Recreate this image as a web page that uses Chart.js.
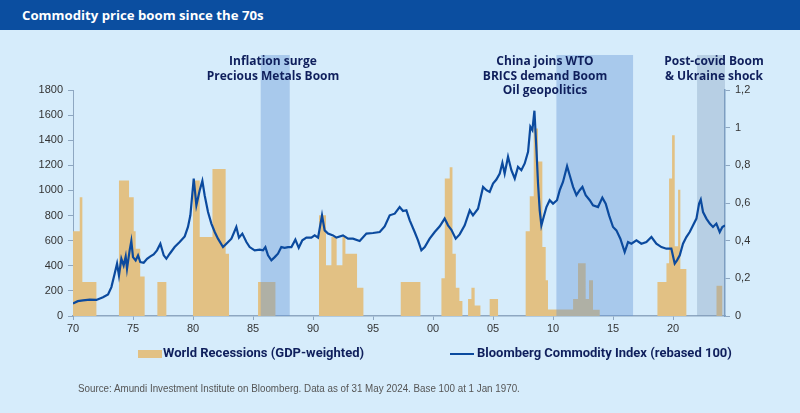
<!DOCTYPE html>
<html>
<head>
<meta charset="utf-8">
<script src="https://cdn.jsdelivr.net/npm/chart.js@4/dist/chart.umd.min.js"></script>
<style>
    body { margin: 0; background: #d6ecfb; }
    #page { position: relative; width: 800px; height: 413px; overflow: hidden; background: #d6ecfb; }
    #titlebar { position: absolute; left: 0; top: 0; width: 800px; height: 30px; background: #0b4ea0; }
    #titlebar span { position: absolute; left: 22px; top: 6px; color: #fff; font: bold 13.2px "Open Sans", sans-serif; }
    #chart { position: absolute; left: 0; top: 0; }
    .note { position: absolute; width: 220px; text-align: center; color: #0f1f5c; font: bold 12px "Open Sans", sans-serif; line-height: 14.5px; }
    .legend { position: absolute; top: 345px; color: #0f1f5c; font: bold 13px Roboto, sans-serif; white-space: nowrap; }
    .legend i { position: absolute; display: block; }
    #source { position: absolute; left: 78px; top: 383px; color: #555; font: 10px "Liberation Sans", Arial, sans-serif; transform: scaleX(0.98); transform-origin: left top; white-space: nowrap; }
</style>
</head>
<body>
<div id="page">
    <canvas id="chart" width="800" height="413"></canvas>
    <div id="titlebar"><span>Commodity price boom since the 70s</span></div>
    <div class="note" style="left:163px; top:54px;">Inflation surge<br>Precious Metals Boom</div>
    <div class="note" style="left:435px; top:54px;">China joins WTO<br>BRICS demand Boom<br>Oil geopolitics</div>
    <div class="note" style="left:604px; top:54px;">Post-covid Boom<br>&amp; Ukraine shock</div>
    <div class="legend" style="left:163px;"><i style="left:-25px; top:5px; width:24px; height:8px; background:#e2c184;"></i>World Recessions (GDP-weighted)</div>
    <div class="legend" style="left:477px;"><i style="left:-27px; top:8px; width:24px; height:2px; background:#0b4a9e;"></i>Bloomberg Commodity Index (rebased 100)</div>
    <div id="source">Source: Amundi Investment Institute on Bloomberg. Data as of 31 May 2024. Base 100 at 1 Jan 1970.</div>
</div>
<script>

// Bloomberg Commodity Index (rebased 100)
let indexYears = [
    1970.0, 1970.4, 1970.83, 1971.4, 1971.95, 1972.5, 1972.92, 1973.2, 1973.47, 1973.67,
    1973.83, 1974.03, 1974.22, 1974.39, 1974.5, 1974.72, 1974.86, 1975.0, 1975.22, 1975.42,
    1975.61, 1975.89, 1976.17, 1976.45, 1976.72, 1977.0, 1977.28, 1977.56, 1977.78, 1978.06,
    1978.47, 1978.89, 1979.31, 1979.58, 1979.78, 1980.06, 1980.28, 1980.56, 1980.78, 1980.97,
    1981.25, 1981.53, 1981.81, 1982.08, 1982.5, 1982.78, 1983.2, 1983.61, 1983.83, 1984.11,
    1984.45, 1984.72, 1985.14, 1985.56, 1985.83, 1986.03, 1986.25, 1986.53, 1986.81, 1987.08,
    1987.36, 1987.64, 1987.92, 1988.2, 1988.53, 1988.81, 1989.11, 1989.45, 1989.86, 1990.14,
    1990.42, 1990.75, 1990.97, 1991.25, 1991.67, 1991.95, 1992.5, 1992.92, 1993.33, 1993.89,
    1994.45, 1995.0, 1995.56, 1995.97, 1996.39, 1996.81, 1997.22, 1997.5, 1997.78, 1998.06,
    1998.47, 1998.75, 1999.03, 1999.31, 1999.72, 2000.14, 2000.56, 2000.97, 2001.25, 2001.53,
    2001.89, 2002.22, 2002.64, 2003.06, 2003.33, 2003.75, 2004.17, 2004.45, 2004.72, 2005.0,
    2005.28, 2005.56, 2005.78, 2005.97, 2006.25, 2006.53, 2006.81, 2007.08, 2007.36, 2007.64,
    2007.92, 2008.11, 2008.28, 2008.45, 2008.62, 2008.75, 2008.89, 2009.03, 2009.22, 2009.45,
    2009.72, 2010.0, 2010.33, 2010.56, 2010.83, 2011.17, 2011.39, 2011.67, 2011.95, 2012.22,
    2012.45, 2012.72, 2013.06, 2013.33, 2013.75, 2014.11, 2014.39, 2014.67, 2015.0, 2015.28,
    2015.61, 2015.97, 2016.25, 2016.53, 2016.95, 2017.36, 2017.78, 2018.2, 2018.61, 2019.03,
    2019.45, 2019.86, 2020.14, 2020.33, 2020.56, 2020.83, 2021.11, 2021.39, 2021.67, 2021.95,
    2022.17, 2022.31, 2022.5, 2022.78, 2023.06, 2023.33, 2023.61, 2023.89, 2024.11, 2024.33
];
let indexValues = [
    100, 118, 124, 130, 128, 150, 172, 230, 337, 417,
    323, 456, 403, 475, 377, 523, 597, 469, 443, 483,
    430, 424, 456, 475, 491, 523, 576, 483, 456, 496,
    549, 589, 634, 709, 802, 1095, 882, 1002, 1076, 962,
    828, 736, 669, 616, 549, 576, 616, 709, 624, 656,
    589, 549, 523, 528, 523, 549, 483, 443, 469, 496,
    549, 543, 549, 549, 608, 543, 603, 624, 624, 642,
    624, 802, 682, 656, 642, 624, 642, 616, 616, 597,
    656, 661, 669, 714, 802, 815, 868, 836, 842, 762,
    669, 603, 523, 549, 616, 669, 714, 776, 722, 687,
    616, 650, 722, 842, 802, 855, 1028, 1002, 988, 1055,
    1087, 1135, 1220, 1135, 1268, 1161, 1095, 1188, 1161, 1215,
    1307, 1507, 1480, 1635, 1321, 1055, 842, 722, 789, 868,
    922, 895, 922, 1002, 1068, 1193, 1121, 1028, 962, 1002,
    1028, 962, 922, 882, 868, 943, 895, 802, 709, 682,
    616, 509, 589, 576, 603, 576, 589, 629, 576, 549,
    536, 536, 417, 443, 483, 576, 629, 669, 722, 776,
    895, 927, 828, 776, 736, 709, 736, 669, 709, 722
];

// World Recessions (GDP-weighted), rechte Achse: Beginn, Ende, Wert
let recessionStart = [
    1970.0, 1970.56, 1970.78, 1973.83, 1974.67, 1975.06, 1975.22, 1975.6, 1977.03, 1980.0,
    1980.56, 1981.62, 1982.72, 1985.42, 1990.5, 1991.08, 1991.53, 1991.97, 1992.45, 1992.7,
    1993.67, 1997.31, 2000.7, 2000.98, 2001.39, 2001.62, 2001.9, 2002.2, 2002.92, 2003.2,
    2003.47, 2004.72, 2007.72, 2008.06, 2008.39, 2008.75, 2009.11, 2009.39, 2009.58, 2011.67,
    2012.08, 2012.72, 2013.0, 2013.33, 2018.7, 2019.45, 2019.67, 2019.92, 2020.14, 2020.42,
    2020.61, 2023.62
];
let recessionEnd = [
    1970.56, 1970.78, 1971.95, 1974.67, 1975.06, 1975.22, 1975.6, 1975.97, 1977.78, 1980.56,
    1981.62, 1982.72, 1983.0, 1986.87, 1991.08, 1991.53, 1991.97, 1992.45, 1992.7, 1993.67,
    1994.2, 1998.95, 2000.98, 2001.39, 2001.62, 2001.9, 2002.2, 2002.45, 2003.2, 2003.47,
    2003.95, 2005.42, 2008.06, 2008.39, 2008.75, 2009.11, 2009.39, 2009.58, 2011.67, 2012.08,
    2012.72, 2013.0, 2013.33, 2013.89, 2019.45, 2019.67, 2019.92, 2020.14, 2020.42, 2020.61,
    2021.11, 2024.12
];
let recessionValues = [
    0.45, 0.63, 0.18, 0.72, 0.63, 0.45, 0.357, 0.21, 0.18, 0.72,
    0.42, 0.78, 0.33, 0.18, 0.535, 0.27, 0.42, 0.27, 0.42, 0.33,
    0.15, 0.18, 0.2, 0.73, 0.79, 0.33, 0.15, 0.08, 0.09, 0.15,
    0.056, 0.09, 0.45, 0.636, 0.996, 0.82, 0.366, 0.19, 0.035, 0.09,
    0.28, 0.09, 0.19, 0.033, 0.18, 0.28, 0.73, 0.96, 0.37, 0.67,
    0.25, 0.16
];

// Hervorgehobene Phasen
let bandStart = [1985.64, 2010.28, 2022.0];
let bandEnd = [1988.06, 2016.67, 2024.33];
let bandColors = ['rgba(100,150,215,0.40)', 'rgba(100,150,215,0.40)', 'rgba(125,155,185,0.35)'];

let xTicks = [1970, 1975, 1980, 1985, 1990, 1995, 2000, 2005, 2010, 2015, 2020];

function buildIndexData() {
    let data = [];
    for (let i = 0; i < indexYears.length; i++) {
        data.push({x: indexYears[i], y: indexValues[i]});
    }
    return data;
}

function buildRecessionData() {
    /*
        Treppenfläche: jeder Punkt gilt bis zum nächsten Punkt.
     */
    let data = [];
    for (let i = 0; i < recessionStart.length; i++) {
        data.push({x: recessionStart[i], y: recessionValues[i]});
        let next = recessionStart[i + 1];
        if (next === undefined || next > recessionEnd[i] + 0.001) {
            data.push({x: recessionEnd[i], y: 0});
        }
    }
    return data;
}

const bandPlugin = {
    id: 'bands',
    beforeDatasetDraw(chart, args) {
        if (args.index !== 0) return;
        let xs = chart.scales.x;
        let area = chart.chartArea;
        let ctx = chart.ctx;
        ctx.save();
        for (let i = 0; i < bandStart.length; i++) {
            let x0 = xs.getPixelForValue(bandStart[i]);
            let x1 = xs.getPixelForValue(bandEnd[i]);
            ctx.fillStyle = bandColors[i];
            ctx.fillRect(x0, area.top - 35, x1 - x0, area.bottom - area.top + 35);
        }
        ctx.restore();
    }
};

let axisColor = '#8ea7c1';
let tickFont = {family: '"Liberation Sans", Arial, sans-serif', size: 11};

new Chart(document.getElementById('chart'), {
    type: 'line',
    data: {
        datasets: [
            {
                label: 'Bloomberg Commodity Index (rebased 100)',
                data: buildIndexData(),
                borderColor: '#0b4a9e',
                borderWidth: 2.2,
                pointRadius: 0,
                tension: 0,
                yAxisID: 'y'
            },
            {
                label: 'World Recessions (GDP-weighted)',
                data: buildRecessionData(),
                stepped: true,
                fill: 'origin',
                backgroundColor: '#e2c184',
                borderWidth: 0,
                pointRadius: 0,
                yAxisID: 'y2'
            }
        ]
    },
    options: {
        responsive: false,
        animation: false,
        devicePixelRatio: 1,
        layout: {padding: {top: 90, left: 0, right: 0, bottom: 0}},
        plugins: {legend: {display: false}, tooltip: {enabled: false}},
        scales: {
            x: {
                type: 'linear',
                min: 1970,
                max: 2024.33,
                afterBuildTicks: function (scale) {
                    scale.ticks = xTicks.map(function (v) { return {value: v}; });
                },
                afterFit: function (scale) { scale.height = 97; },
                ticks: {
                    color: '#333',
                    font: tickFont,
                    padding: 2,
                    maxRotation: 0,
                    autoSkip: false,
                    callback: function (v) { return String(v % 100).padStart(2, '0'); }
                },
                grid: {drawOnChartArea: false, drawTicks: true, tickLength: 4, color: axisColor},
                border: {display: true, color: axisColor, width: 1.5}
            },
            y: {
                position: 'left',
                min: 0,
                max: 1800,
                afterFit: function (scale) { scale.width = 73; },
                ticks: {
                    stepSize: 200,
                    color: '#333',
                    font: tickFont,
                    padding: 5,
                    callback: function (v) { return String(v); }
                },
                grid: {drawOnChartArea: false, drawTicks: true, tickLength: 5, color: axisColor},
                border: {display: true, color: axisColor, width: 1}
            },
            y2: {
                position: 'right',
                min: 0,
                max: 1.2,
                afterFit: function (scale) { scale.width = 75; },
                ticks: {
                    stepSize: 0.2,
                    color: '#333',
                    font: tickFont,
                    padding: 5,
                    callback: function (v) { return String(Number(v.toFixed(1))).replace('.', ','); }
                },
                grid: {drawOnChartArea: false, drawTicks: true, tickLength: 5, color: axisColor},
                border: {display: true, color: '#7d9fc3', width: 1.5}
            }
        }
    },
    plugins: [bandPlugin]
});

</script>
</body>
</html>
